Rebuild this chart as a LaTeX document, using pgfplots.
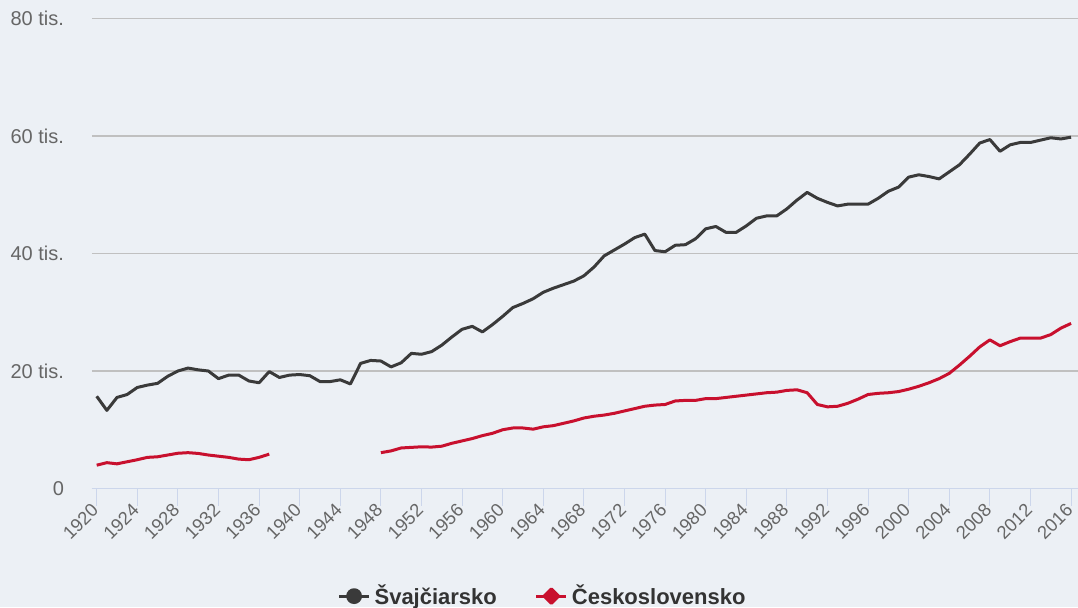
\documentclass[border=0pt]{standalone}
\usepackage{fontspec}
\setmainfont{Liberation Sans}
\usepackage{pgfplots}
\pgfplotsset{compat=1.18}
\definecolor{bgc}{RGB}{236,240,245}
\definecolor{axc}{RGB}{204,214,235}
\definecolor{gridc}{RGB}{192,192,192}
\definecolor{blk}{RGB}{58,58,58}
\definecolor{redc}{RGB}{200,16,46}
\definecolor{lblc}{RGB}{102,102,102}
\definecolor{legc}{RGB}{51,51,51}
\begin{document}
\begin{tikzpicture}
\fill[bgc] (-46pt,-59.25pt) rectangle (493pt,244.25pt);
\begin{axis}[
  scale only axis,
  width=493pt, height=235pt,
  xmin=1919.537, xmax=2016.68,
  ymin=0, ymax=80,
  axis x line*=bottom, axis y line*=left,
  y axis line style={draw=none},
  x axis line style={color=axc, line width=0.6pt},
  xtick={1920,1924,...,2016},
  xtick style={color=axc, line width=0.5pt},
  tick align=outside,
  major tick length=8.5pt,
  ytick={0,20,40,60,80},
  yticklabels={0,20 tis.,40 tis.,60 tis.,80 tis.},
  ytick style={draw=none},
  ymajorgrids,
  grid style={color=gridc, line width=0.6pt},
  /pgf/number format/assume math mode=true,
  /pgf/number format/1000 sep={},
  xticklabel style={rotate=45, anchor=east, font=\fontsize{9.2pt}{11pt}\selectfont, text=lblc, inner sep=1pt},
  yticklabel style={font=\fontsize{10pt}{12pt}\selectfont, text=lblc, xshift=-2pt},
  unbounded coords=jump,
  legend columns=2,
  legend style={at={(0.458,-0.229)}, anchor=center, draw=none, fill=none,
    font=\bfseries\fontsize{11pt}{13pt}\selectfont, text=legc,
    /tikz/every even column/.append style={column sep=17pt}},
]
\addplot[color=blk, line width=1.5pt, line join=round,
  legend image code/.code={\draw[blk, line width=1.5pt] (0pt,0pt) -- (15pt,0pt); \fill[blk] (7.5pt,0pt) circle (3.2pt);}]
coordinates {
(1920,15.7)(1921,13.3)(1922,15.5)(1923,16.0)(1924,17.2)(1925,17.6)(1926,17.9)(1927,19.1)(1928,20.0)(1929,20.5)
(1930,20.2)(1931,20.0)(1932,18.7)(1933,19.3)(1934,19.3)(1935,18.3)(1936,18.0)(1937,19.9)(1938,18.9)(1939,19.3)
(1940,19.4)(1941,19.2)(1942,18.2)(1943,18.2)(1944,18.5)(1945,17.8)(1946,21.3)(1947,21.8)(1948,21.7)(1949,20.7)
(1950,21.4)(1951,23.0)(1952,22.85)(1953,23.3)(1954,24.4)(1955,25.8)(1956,27.1)(1957,27.6)(1958,26.65)(1959,27.9)
(1960,29.3)(1961,30.8)(1962,31.5)(1963,32.3)(1964,33.4)(1965,34.1)(1966,34.7)(1967,35.3)(1968,36.2)(1969,37.7)
(1970,39.6)(1971,40.6)(1972,41.6)(1973,42.7)(1974,43.3)(1975,40.5)(1976,40.3)(1977,41.4)(1978,41.5)(1979,42.5)
(1980,44.2)(1981,44.6)(1982,43.6)(1983,43.6)(1984,44.7)(1985,46.0)(1986,46.4)(1987,46.4)(1988,47.6)(1989,49.1)
(1990,50.4)(1991,49.4)(1992,48.7)(1993,48.1)(1994,48.4)(1995,48.4)(1996,48.4)(1997,49.4)(1998,50.6)(1999,51.3)
(2000,53.0)(2001,53.4)(2002,53.1)(2003,52.7)(2004,53.9)(2005,55.1)(2006,56.9)(2007,58.8)(2008,59.4)(2009,57.4)
(2010,58.5)(2011,58.9)(2012,58.9)(2013,59.3)(2014,59.7)(2015,59.5)(2016,59.8)
};
\addlegendentry{Švajčiarsko}
\addplot[color=redc, line width=1.5pt, line join=round,
  legend image code/.code={\draw[redc, line width=1.5pt] (0pt,0pt) -- (15pt,0pt); \fill[redc] (7.5pt,3.6pt) -- (11.1pt,0pt) -- (7.5pt,-3.6pt) -- (3.9pt,0pt) -- cycle;}]
coordinates {
(1920,3.97)(1921,4.4)(1922,4.2)(1923,4.55)(1924,4.9)(1925,5.3)(1926,5.4)(1927,5.7)(1928,6.0)(1929,6.1)
(1930,5.97)(1931,5.7)(1932,5.5)(1933,5.3)(1934,5.0)(1935,4.9)(1936,5.3)(1937,5.85)(1938,nan)
(1947,nan)(1948,6.1)(1949,6.4)
(1950,6.9)(1951,7.0)(1952,7.1)(1953,7.05)(1954,7.2)(1955,7.7)(1956,8.1)(1957,8.5)(1958,9.0)(1959,9.4)
(1960,10.0)(1961,10.3)(1962,10.3)(1963,10.1)(1964,10.5)(1965,10.7)(1966,11.1)(1967,11.5)(1968,12.0)(1969,12.3)
(1970,12.5)(1971,12.8)(1972,13.2)(1973,13.6)(1974,14.0)(1975,14.2)(1976,14.3)(1977,14.9)(1978,15.0)(1979,15.0)
(1980,15.3)(1981,15.3)(1982,15.5)(1983,15.7)(1984,15.9)(1985,16.1)(1986,16.3)(1987,16.4)(1988,16.7)(1989,16.8)
(1990,16.3)(1991,14.3)(1992,13.9)(1993,14.0)(1994,14.5)(1995,15.2)(1996,16.0)(1997,16.2)(1998,16.3)(1999,16.5)
(2000,16.9)(2001,17.4)(2002,18.0)(2003,18.7)(2004,19.6)(2005,21.0)(2006,22.5)(2007,24.1)(2008,25.3)(2009,24.3)
(2010,25.0)(2011,25.6)(2012,25.6)(2013,25.6)(2014,26.2)(2015,27.3)(2016,28.1)
};
\addlegendentry{Československo}
\end{axis}
\pgfresetboundingbox
\path[use as bounding box] (-46pt,-59.25pt) rectangle (493pt,244.25pt);
\end{tikzpicture}
\end{document}
